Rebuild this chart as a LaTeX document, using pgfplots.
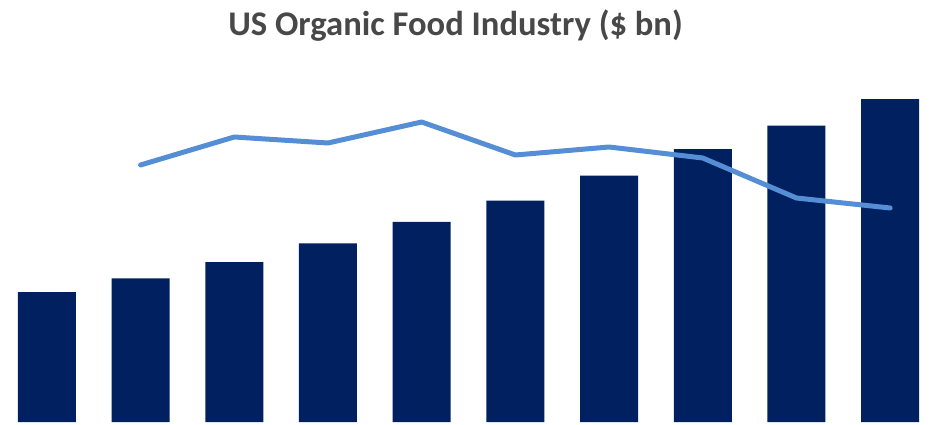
\documentclass[border=0pt]{standalone}
\usepackage{pgfplots}
\pgfplotsset{compat=1.18}
\usepackage{fontspec}
\setmainfont{Carlito}
\definecolor{barnavy}{RGB}{0,32,96}
\definecolor{lineblue}{RGB}{85,142,213}
\definecolor{titlegray}{RGB}{72,72,72}
\begin{document}
\begin{tikzpicture}
\useasboundingbox (0,0) rectangle (471pt,212pt);
\begin{axis}[
  at={(0pt,1pt)}, anchor=south west,
  scale only axis, width=468.5pt, height=180pt,
  xmin=0.5, xmax=10.5, ymin=0, ymax=50.4,
  hide axis, clip=false,
]
\addplot[ybar, bar width=29pt, fill=barnavy, draw=none] coordinates {
 (1,18.2) (2,20.1) (3,22.4) (4,25.0) (5,28.0) (6,31.0) (7,34.5) (8,38.2) (9,41.5) (10,45.2)};
\end{axis}
\begin{axis}[
  at={(0pt,1pt)}, anchor=south west,
  scale only axis, width=468.5pt, height=180pt,
  xmin=0.5, xmax=10.5, ymin=0, ymax=14.4,
  hide axis, clip=false,
]
\addplot[lineblue, line width=2.5pt, line join=round, line cap=round] coordinates {
 (2,10.28) (3,11.4) (4,11.16) (5,12.0) (6,10.68) (7,11.0) (8,10.56) (9,8.96) (10,8.56)};
\end{axis}
\node[font=\fontsize{17.3}{20}\selectfont\bfseries, text=titlegray] at (227.75pt,199pt) {US Organic Food Industry (\$ bn)};
\end{tikzpicture}
\end{document}
